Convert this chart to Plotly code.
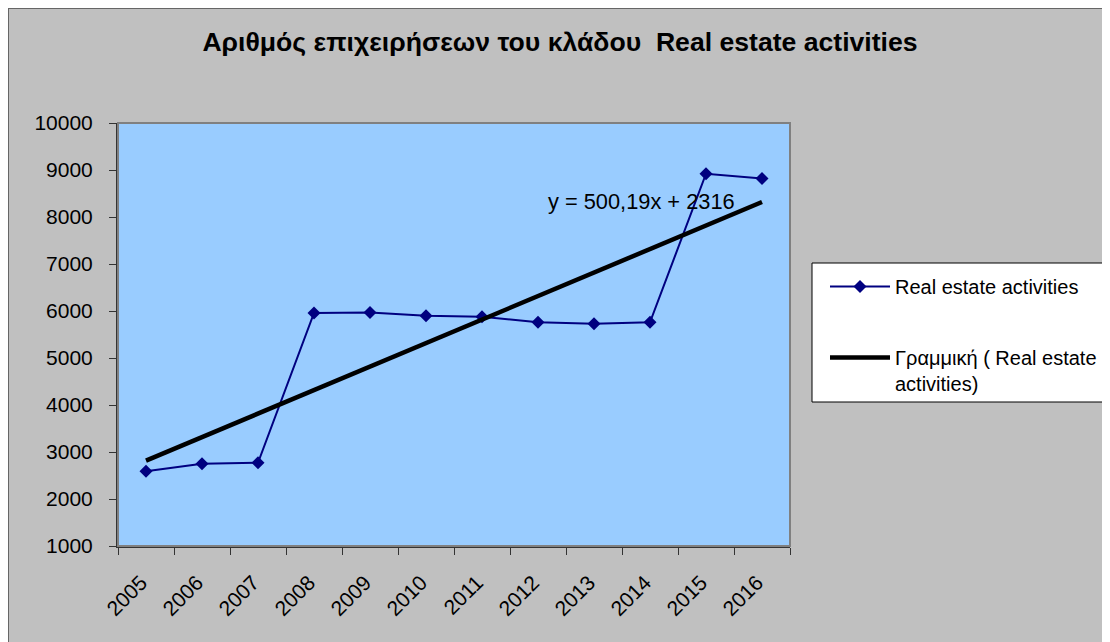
import plotly.graph_objects as go

years = ["2005", "2006", "2007", "2008", "2009", "2010", "2011", "2012", "2013", "2014", "2015", "2016"]
firms = [2590, 2750, 2770, 5960, 5970, 5900, 5880, 5760, 5730, 5760, 8920, 8820]
trend_slope = 500.19
trend_intercept = 2316
series_name = "Real estate activities"
trend_name = "Γραμμική ( Real estate<br>activities)"
equation_text = "y = 500,19x + 2316"
title_text = "<b>Αριθμός επιχειρήσεων του κλάδου  Real estate activities</b>"

xpos = list(range(1, len(years) + 1))
trend = [trend_slope * x + trend_intercept for x in xpos]

FONT = "Liberation Sans, Arial, sans-serif"
W, H = 1110, 642
L, T = 110, 115
PR, PB = 782, 538
R, B = W - PR, H - PB
pw, ph = PR - L, PB - T

def px(xp):
    return (xp - L) / pw

def py(yp):
    return (PB - yp) / ph

fig = go.Figure()
fig.add_trace(go.Scatter(
    x=xpos, y=firms, mode="lines+markers", name=series_name,
    line=dict(color="#000080", width=2),
    marker=dict(symbol="diamond", size=10, color="#000080"),
    legendgroup="a",
))
fig.add_trace(go.Scatter(
    x=[xpos[0], xpos[-1]], y=[trend[0], trend[-1]], mode="lines", name=trend_name,
    line=dict(color="black", width=4.5),
    legendgroup="b",
))

fig.add_annotation(
    x=11.55, y=8320, xref="x", yref="y", text=equation_text, showarrow=False,
    xanchor="right", yanchor="middle", font=dict(family=FONT, size=21.8, color="black"),
)

shapes = [
    # outer chart border
    dict(type="rect", xref="paper", yref="paper", x0=px(0), x1=px(W + 20), y0=py(H + 20), y1=py(0),
         line=dict(color="#666666", width=2), fillcolor="rgba(0,0,0,0)", layer="below"),
    # plot area border
    dict(type="rect", xref="paper", yref="paper", x0=0, x1=1, y0=0, y1=1,
         line=dict(color="#808080", width=2), fillcolor="rgba(0,0,0,0)", layer="above"),
    # legend box
    dict(type="rect", xref="paper", yref="paper", x0=px(804), x1=px(1101), y0=py(394), y1=py(255),
         line=dict(color="black", width=1), fillcolor="white", layer="above"),
]

fig.update_layout(
    width=W, height=H,
    margin=dict(l=L, r=R, t=T, b=B),
    paper_bgcolor="#C0C0C0", plot_bgcolor="#99CCFF",
    font=dict(family=FONT, size=20, color="black"),
    title=dict(text=title_text, x=552 / W, xref="container", xanchor="center",
               y=1 - 34 / H, yref="container", yanchor="middle",
               font=dict(family=FONT, size=26.6, color="black")),
    showlegend=True,
    legend=dict(x=px(817), y=py(259), xanchor="left", yanchor="top",
                bgcolor="rgba(0,0,0,0)", borderwidth=0,
                font=dict(family=FONT, size=20, color="black"),
                traceorder="grouped", tracegroupgap=42, itemwidth=60, valign="top"),
    shapes=shapes,
    xaxis=dict(range=[0.5, 12.5], tickvals=xpos, ticktext=years, tickangle=-45,
               ticks="", showgrid=False, zeroline=False, showline=True,
               linecolor="#333333", linewidth=2, tickfont=dict(size=21),
               ticklabelstandoff=14, ticklabelshift=-5,
               minor=dict(tickvals=[x + 0.5 for x in range(0, 13)], ticks="outside",
                          ticklen=7, tickcolor="#333333", tickwidth=1, showgrid=False),
               fixedrange=True),
    yaxis=dict(range=[1000, 10000], dtick=1000, tick0=0, tickformat="d",
               ticks="outside", ticklen=7, ticklabelstandoff=12,
               tickcolor="#333333", showgrid=False, zeroline=False, showline=True,
               linecolor="#333333", linewidth=2, tickfont=dict(size=21), fixedrange=True),
)

fig.write_html("out.html")
